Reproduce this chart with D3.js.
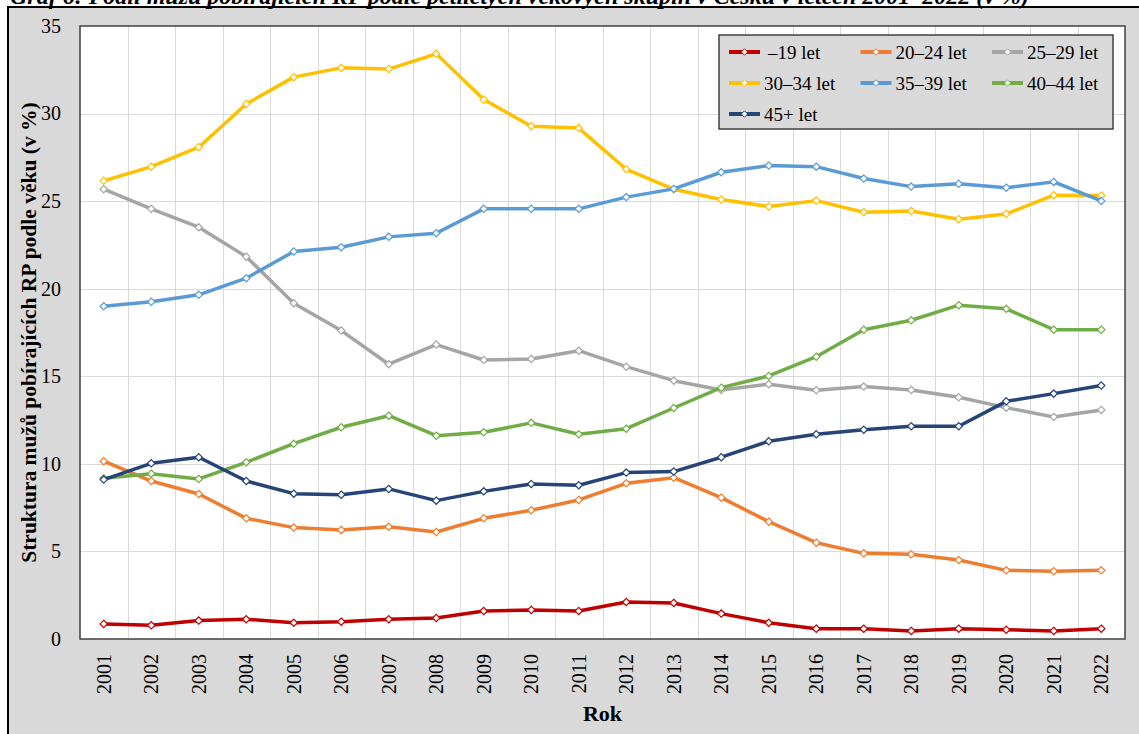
<!DOCTYPE html>
<html>
<head>
<meta charset="utf-8">
<style>
  body { margin: 0; background: #fff; }
  svg { display: block; }
  svg text { font-family: "Liberation Serif", "Times New Roman", serif !important; }
</style>
<script src="https://cdn.jsdelivr.net/npm/d3@7"></script>
</head>
<body>
<svg id="svg"></svg>
<script>
  var width = 1139,
      height = 734;

  // data (share of men, %)
  var years = ["2001", "2002", "2003", "2004", "2005", "2006", "2007", "2008", "2009", "2010", "2011",
               "2012", "2013", "2014", "2015", "2016", "2017", "2018", "2019", "2020", "2021", "2022"];
  var seriesNames = ["\u201319 let", "20\u201324 let", "25\u201329 let", "30\u201334 let", "35\u201339 let", "40\u201344 let", "45+ let"];
  var s19 = [0.86, 0.78, 1.05, 1.13, 0.93, 0.99, 1.13, 1.20, 1.60, 1.66, 1.60, 2.11, 2.06, 1.45, 0.93, 0.59, 0.59, 0.46, 0.59, 0.53, 0.46, 0.59];
  var s20 = [10.15, 9.02, 8.28, 6.89, 6.36, 6.23, 6.41, 6.11, 6.89, 7.35, 7.94, 8.89, 9.21, 8.07, 6.70, 5.50, 4.89, 4.84, 4.51, 3.92, 3.87, 3.92];
  var s25 = [25.68, 24.56, 23.51, 21.83, 19.17, 17.61, 15.69, 16.81, 15.93, 15.99, 16.46, 15.55, 14.75, 14.22, 14.55, 14.20, 14.41, 14.22, 13.80, 13.21, 12.68, 13.08];
  var s30 = [26.16, 26.97, 28.08, 30.55, 32.08, 32.61, 32.54, 33.41, 30.80, 29.28, 29.17, 26.82, 25.68, 25.09, 24.69, 25.03, 24.37, 24.44, 23.97, 24.27, 25.34, 25.32];
  var s35 = [19.00, 19.25, 19.65, 20.60, 22.12, 22.37, 22.96, 23.17, 24.56, 24.56, 24.56, 25.23, 25.70, 26.65, 27.03, 26.97, 26.29, 25.83, 25.99, 25.77, 26.10, 25.01];
  var s40 = [9.18, 9.44, 9.14, 10.09, 11.15, 12.09, 12.75, 11.61, 11.80, 12.34, 11.69, 12.01, 13.19, 14.35, 15.02, 16.12, 17.66, 18.20, 19.06, 18.85, 17.66, 17.66];
  var s45 = [9.10, 10.03, 10.38, 9.02, 8.30, 8.24, 8.57, 7.90, 8.43, 8.85, 8.78, 9.50, 9.56, 10.38, 11.29, 11.69, 11.95, 12.15, 12.15, 13.57, 14.01, 14.47];
  var yTicks = [0, 5, 10, 15, 20, 25, 30, 35];

  var colors = ["#C00000", "#ED7D31", "#A5A5A5", "#FFC000", "#5B9BD5", "#70AD47", "#264478"];
  var seriesValues = [s19, s20, s25, s30, s35, s40, s45];

  var series = seriesNames.map((name, i) => {
    return { name: name, color: colors[i], values: seriesValues[i] };
  });

  var plot = { left: 80, right: 1125, top: 26, bottom: 639 };

  var svg = d3.select("#svg")
      .attr("width", width)
      .attr("height", height);

  // outer frame
  svg.append("rect")
      .attr("x", 8).attr("y", 7)
      .attr("width", width + 10).attr("height", height + 10)
      .attr("fill", "#d9d9d9")
      .attr("stroke", "#000")
      .attr("stroke-width", 2);

  // title, cut off at the top like in the source
  svg.append("text")
      .attr("x", 10).attr("y", 4)
      .attr("font-size", 24)
      .attr("font-weight", "bold")
      .attr("font-style", "italic")
      .text("Graf 6: Podíl mužů pobírajících RP podle pětiletých věkových skupin v Česku v letech 2001–2022 (v %)");

  var x = d3.scaleBand()
      .domain(years)
      .range([plot.left, plot.right])
      .padding(0);

  var y = d3.scaleLinear()
      .domain([0, 35])
      .range([plot.bottom, plot.top]);

  svg.append("rect")
      .attr("x", plot.left).attr("y", plot.top)
      .attr("width", plot.right - plot.left).attr("height", plot.bottom - plot.top)
      .attr("fill", "#fff");

  // grid
  var grid = svg.append("g").attr("stroke", "#d9d9d9").attr("stroke-width", 1);
  grid.selectAll("line.h").data(yTicks.slice(1, -1))
    .enter().append("line")
      .attr("x1", plot.left).attr("x2", plot.right)
      .attr("y1", d => Math.round(y(d)) + 0.5).attr("y2", d => Math.round(y(d)) + 0.5);
  grid.selectAll("line.v").data(years.slice(1))
    .enter().append("line")
      .attr("x1", d => Math.round(x(d)) + 0.5).attr("x2", d => Math.round(x(d)) + 0.5)
      .attr("y1", plot.top).attr("y2", plot.bottom);

  svg.append("rect")
      .attr("x", plot.left).attr("y", plot.top)
      .attr("width", plot.right - plot.left).attr("height", plot.bottom - plot.top)
      .attr("fill", "none")
      .attr("stroke", "#404040")
      .attr("stroke-width", 1.5);

  // y axis
  var yAxis = svg.append("g")
      .attr("transform", "translate(" + (plot.left - 19) + ",0)")
      .call(d3.axisLeft(y).tickValues(yTicks).tickSize(0).tickPadding(0));
  yAxis.select(".domain").remove();
  yAxis.selectAll("text")
      .attr("font-size", 20)
      .attr("fill", "#000");

  // x axis
  var xAxis = svg.append("g")
      .attr("transform", "translate(0," + plot.bottom + ")")
      .call(d3.axisBottom(x).tickSize(0).tickPadding(0));
  xAxis.select(".domain").remove();
  xAxis.selectAll("text")
      .attr("font-size", 20)
      .attr("fill", "#000")
      .attr("text-anchor", "end")
      .attr("dy", "0.35em")
      .attr("transform", "translate(0,15) rotate(-90)")
      .attr("y", 0).attr("x", 0);

  svg.append("text")
      .attr("x", (plot.left + plot.right) / 2)
      .attr("y", 721)
      .attr("text-anchor", "middle")
      .attr("font-size", 22)
      .attr("font-weight", "bold")
      .text("Rok");

  svg.append("text")
      .attr("transform", "translate(36," + (plot.top + plot.bottom) / 2 + ") rotate(-90)")
      .attr("text-anchor", "middle")
      .attr("font-size", 21.5)
      .attr("font-weight", "bold")
      .text("Struktura mužů pobírajících RP podle věku (v %)");

  // lines
  var line = d3.line()
      .x((d, i) => x(years[i]) + x.bandwidth() / 2)
      .y(d => y(d));

  var diamond = d3.symbol().type(d3.symbolDiamond2).size(34);

  series.forEach(s => {
    var g = svg.append("g");
    g.append("path")
        .attr("d", line(s.values))
        .attr("fill", "none")
        .attr("stroke", s.color)
        .attr("stroke-width", 3.5)
        .attr("stroke-linejoin", "round");
    g.selectAll("path.m").data(s.values)
      .enter().append("path")
        .attr("class", "m")
        .attr("d", diamond)
        .attr("transform", (d, i) => "translate(" + (x(years[i]) + x.bandwidth() / 2) + "," + y(d) + ")")
        .attr("fill", "#fff")
        .attr("stroke", s.color)
        .attr("stroke-width", 1.2);
  });

  // legend
  var legend = svg.append("g");
  legend.append("rect")
      .attr("x", 719).attr("y", 35)
      .attr("width", 394).attr("height", 94)
      .attr("fill", "#d9d9d9")
      .attr("stroke", "#404040")
      .attr("stroke-width", 1.5);

  var items = legend.selectAll("g.item").data(series)
    .enter().append("g")
      .attr("transform", (d, i) => "translate(" + (729 + (i % 3) * 131.5) + "," + (52 + Math.floor(i / 3) * 31) + ")");
  items.append("line")
      .attr("x1", 0).attr("x2", 31)
      .attr("stroke", d => d.color)
      .attr("stroke-width", 4);
  items.append("path")
      .attr("d", d3.symbol().type(d3.symbolDiamond2).size(26))
      .attr("transform", "translate(15.5,0)")
      .attr("fill", "#fff")
      .attr("stroke", d => d.color)
      .attr("stroke-width", 1);
  items.append("text")
      .attr("x", d => d.name.charAt(0) === "\u2013" ? 39 : 35)
      .attr("dy", "0.35em")
      .attr("font-size", 19)
      .attr("fill", "#000")
      .text(d => d.name);
</script>
</body>
</html>
